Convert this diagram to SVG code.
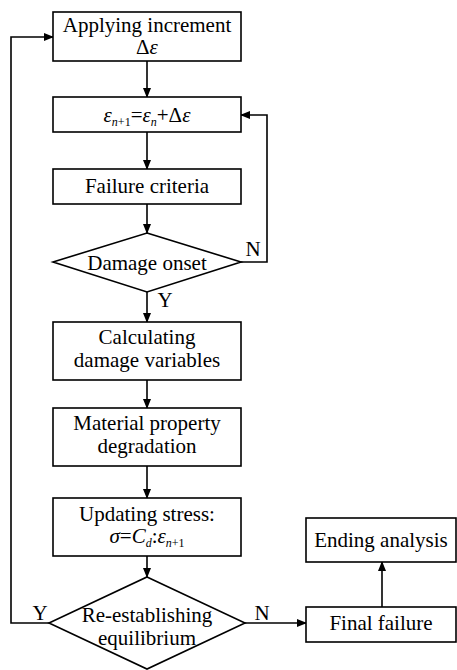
<svg xmlns="http://www.w3.org/2000/svg" width="457" height="670" viewBox="0 0 457 670">
<style>
.n{fill:#fff;stroke:#000;stroke-width:1.6}
.t{font-family:"Liberation Serif","Times New Roman",serif;font-size:21px;fill:#000;text-anchor:middle}
.i{font-style:italic}
.s{font-size:12px}
.c{fill:none;stroke:#000;stroke-width:1.6}
</style>
<defs>
<marker id="a" markerWidth="10" markerHeight="8" refX="9" refY="4" orient="auto" markerUnits="userSpaceOnUse">
<path d="M0,0 L10,4 L0,8 Z" fill="#000"/>
</marker>
</defs>
<rect width="457" height="670" fill="#fff"/>
<g id="connectors">
<path class="c" d="M147,61 V97" marker-end="url(#a)"/>
<path class="c" d="M147,132 V169" marker-end="url(#a)"/>
<path class="c" d="M147,204 V233" marker-end="url(#a)"/>
<path class="c" d="M241,262 H267 V115 H241" marker-end="url(#a)"/>
<path class="c" d="M147,292 V322" marker-end="url(#a)"/>
<path class="c" d="M147,380 V408" marker-end="url(#a)"/>
<path class="c" d="M147,466 V498" marker-end="url(#a)"/>
<path class="c" d="M147,556 V577" marker-end="url(#a)"/>
<path class="c" d="M49,623 H11 V37 H53" marker-end="url(#a)"/>
<path class="c" d="M245,623 H306" marker-end="url(#a)"/>
<path class="c" d="M382,607 V562" marker-end="url(#a)"/>
<text class="t" x="253" y="256">N</text>
<text class="t" x="165" y="307">Y</text>
<text class="t" x="40" y="620">Y</text>
<text class="t" x="262" y="620">N</text>
</g>
<g id="n1"><rect class="n" x="53" y="12" width="188" height="49"/>
<text class="t" x="147" y="32">Applying increment</text>
<text class="t" x="147" y="54">Δ<tspan class="i">ε</tspan></text></g>
<g id="n2"><rect class="n" x="53" y="97" width="188" height="35"/>
<text class="t" x="147" y="122"><tspan class="i">ε</tspan><tspan class="i s" dy="4">n</tspan><tspan class="s">+1</tspan><tspan dy="-4">=</tspan><tspan class="i">ε</tspan><tspan class="i s" dy="4">n</tspan><tspan dy="-4">+Δ</tspan><tspan class="i">ε</tspan></text></g>
<g id="n3"><rect class="n" x="53" y="169" width="188" height="35"/>
<text class="t" x="147" y="193">Failure criteria</text></g>
<g id="n4"><polygon class="n" points="147,233 241,262 147,292 53,262"/>
<text class="t" x="147" y="270">Damage onset</text></g>
<g id="n5"><rect class="n" x="53" y="322" width="188" height="58"/>
<text class="t" x="147" y="344">Calculating</text>
<text class="t" x="147" y="367">damage variables</text></g>
<g id="n6"><rect class="n" x="53" y="408" width="188" height="58"/>
<text class="t" x="147" y="430">Material property</text>
<text class="t" x="147" y="453">degradation</text></g>
<g id="n7"><rect class="n" x="53" y="498" width="188" height="58"/>
<text class="t" x="147" y="521">Updating stress:</text>
<text class="t" x="147" y="543"><tspan class="i">σ</tspan>=<tspan class="i">C</tspan><tspan class="i s" dy="4">d</tspan><tspan dy="-4">:</tspan><tspan class="i">ε</tspan><tspan class="i s" dy="4">n</tspan><tspan class="s">+1</tspan></text></g>
<g id="n8"><polygon class="n" points="147,577 245,623 147,669 49,623"/>
<text class="t" x="147" y="622">Re-establishing</text>
<text class="t" x="147" y="645">equilibrium</text></g>
<g id="n9"><rect class="n" x="306" y="607" width="150" height="35"/>
<text class="t" x="381" y="630">Final failure</text></g>
<g id="n10"><rect class="n" x="306" y="518" width="150" height="44"/>
<text class="t" x="381" y="547">Ending analysis</text></g>
</svg>
